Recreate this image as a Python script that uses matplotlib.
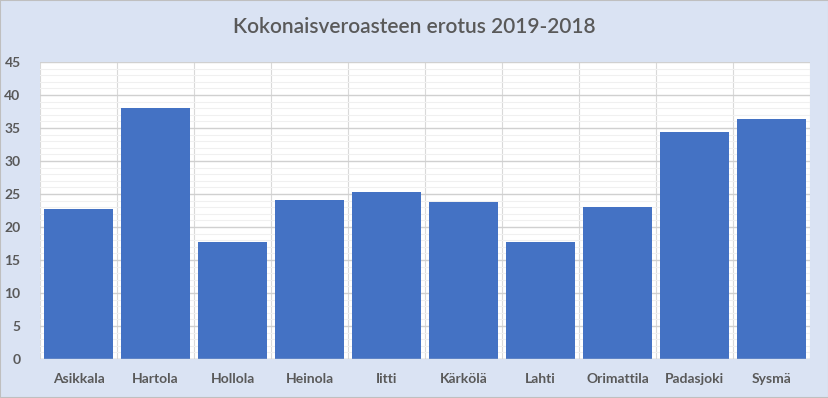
import numpy as np
import matplotlib.pyplot as plt
from matplotlib.ticker import MultipleLocator

# Kunnat ja arvot
kunnat = ['Asikkala', 'Hartola', 'Hollola', 'Heinola', 'Iitti',
          'Kärkölä', 'Lahti', 'Orimattila', 'Padasjoki', 'Sysmä']
erotus = [22.7, 38.0, 17.7, 24.1, 25.3, 23.8, 17.7, 23.0, 34.4, 36.4]

bg = '#DAE3F3'
bar_color = '#4472C4'
text_color = '#595959'

plt.rcParams['font.family'] = ['Lato', 'DejaVu Sans']

fig = plt.figure(figsize=(8.29, 3.98), dpi=100, facecolor=bg)
ax = fig.add_axes([40 / 829, 1 - 359 / 398, 770 / 829, 297 / 398])
ax.set_facecolor('white')

x = np.arange(len(kunnat))
ax.bar(x, erotus, width=0.9, color=bar_color, zorder=3)

ax.set_xlim(-0.5, len(kunnat) - 0.5)
ax.set_ylim(0, 45)
ax.yaxis.set_major_locator(MultipleLocator(5))
ax.yaxis.set_minor_locator(MultipleLocator(1))
ax.xaxis.set_minor_locator(MultipleLocator(0.5))

# taustan ruudukko
ax.grid(axis='y', which='major', color='#D0D0D0', linewidth=1, zorder=1)
ax.grid(axis='y', which='minor', color='#F0F0F0', linewidth=0.8, zorder=0)
ax.grid(axis='x', which='minor', color='#D9D9D9', linewidth=0.8, zorder=0)

ax.set_xticks(x)
ax.set_xticklabels(kunnat)
ax.tick_params(axis='both', which='both', length=0, labelsize=10, colors=text_color)
ax.tick_params(axis='x', pad=10)
ax.tick_params(axis='y', pad=14)
for lbl in ax.get_xticklabels() + ax.get_yticklabels():
    lbl.set_fontweight('bold')

for s in ax.spines.values():
    s.set_visible(False)
ax.axhline(0, color='#D0D0D0', linewidth=1, zorder=4)

fig.text(0.5, 1 - 27 / 398, 'Kokonaisveroasteen erotus 2019-2018', ha='center', va='center',
         fontsize=15, color=text_color, fontweight='semibold')

# ulkoreunus
fig.patches.append(plt.Rectangle((0, 0), 1, 1, transform=fig.transFigure, fill=False,
                                 edgecolor='#BFBFBF', linewidth=1.5))

fig.savefig('out.png', dpi=100, facecolor=bg)
